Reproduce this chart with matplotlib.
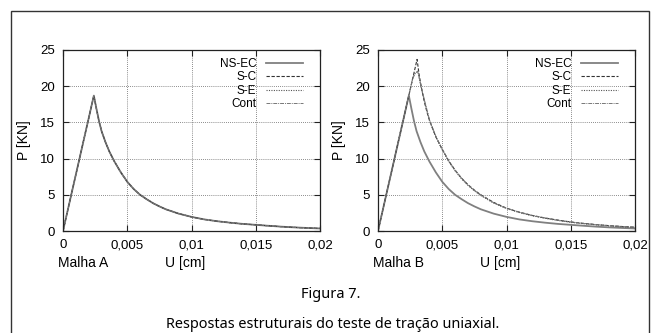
import matplotlib
matplotlib.use('Agg')
import matplotlib.pyplot as plt
from matplotlib.patches import Rectangle

plt.rcParams['font.family'] = ['Liberation Sans', 'DejaVu Sans']

# curvas carga-deslocamento (U em cm, P em KN)
u_ns = [0, 0.0024, 0.0026, 0.0028, 0.003, 0.0033, 0.0036, 0.004, 0.0045,
        0.005, 0.0055, 0.006, 0.0065, 0.007, 0.0075, 0.008, 0.009, 0.010,
        0.011, 0.012, 0.013, 0.014, 0.015, 0.016, 0.017, 0.018, 0.019, 0.020]
p_ns = [0, 18.7, 16.9, 15.2, 13.8, 12.3, 11.0, 9.6, 8.1,
        6.8, 5.8, 5.0, 4.4, 3.85, 3.4, 3.0, 2.4, 1.95,
        1.6, 1.35, 1.15, 0.98, 0.85, 0.72, 0.6, 0.5, 0.42, 0.35]

u_sc = [0, 0.00304, 0.0032, 0.0034, 0.0036, 0.0038, 0.004, 0.0045, 0.005,
        0.0055, 0.006, 0.0065, 0.007, 0.0075, 0.008, 0.009, 0.010, 0.011,
        0.012, 0.013, 0.014, 0.015, 0.016, 0.017, 0.018, 0.019, 0.020]
p_sc = [0, 23.7, 21.6, 19.6, 17.9, 16.5, 15.3, 13.0, 11.3,
        9.7, 8.4, 7.3, 6.4, 5.65, 5.0, 3.95, 3.15, 2.6,
        2.15, 1.8, 1.5, 1.25, 1.05, 0.88, 0.74, 0.62, 0.52]

u_se = [0, 0.0027, 0.0029, 0.0031, 0.0033, 0.0035, 0.0037, 0.004, 0.0045,
        0.005, 0.0055, 0.006, 0.0065, 0.007, 0.0075, 0.008, 0.009, 0.010,
        0.011, 0.012, 0.013, 0.014, 0.015, 0.016, 0.017, 0.018, 0.019, 0.020]
p_se = [0, 21.1, 21.8, 22.0, 20.3, 18.8, 17.4, 15.3, 13.0,
        11.2, 9.6, 8.3, 7.2, 6.3, 5.55, 4.9, 3.85, 3.1,
        2.55, 2.1, 1.75, 1.45, 1.2, 1.0, 0.84, 0.7, 0.58, 0.48]

u_ct = u_se
p_ct = [0, 21.1, 21.8, 22.1, 20.4, 18.9, 17.5, 15.4, 13.1,
        11.3, 9.7, 8.4, 7.3, 6.4, 5.6, 5.0, 3.9, 3.15,
        2.6, 2.15, 1.8, 1.5, 1.25, 1.05, 0.88, 0.74, 0.62, 0.52]

x_ticks = [0, 0.005, 0.01, 0.015, 0.02]
x_labels = ['0', '0,005', '0,01', '0,015', '0,02']
y_ticks = [0, 5, 10, 15, 20, 25]
series_names = ['NS-EC', 'S-C', 'S-E', 'Cont']
mesh_names = ['Malha A', 'Malha B']

W, H = 654, 333
fig = plt.figure(figsize=(W / 100, H / 100), dpi=100)

# moldura externa
fig.patches.append(Rectangle((11 / W, -0.1), 638 / W, 1.1 - 11 / H,
                             transform=fig.transFigure, fill=False,
                             edgecolor='#333333', lw=1.0))

axes_left = [63, 378]
ax_w, ax_top, ax_bot = 257, 50, 231

styles = [dict(color='#808080', lw=1.3, ls='-'),
          dict(color='#333333', lw=0.8, ls=(0, (3, 1.5))),
          dict(color='#555555', lw=0.8, ls=(0, (1, 1.2))),
          dict(color='#777777', lw=0.7, ls=(0, (4, 1, 1, 1)))]

for i, left in enumerate(axes_left):
    ax = fig.add_axes([left / W, 1 - ax_bot / H, ax_w / W, (ax_bot - ax_top) / H])
    if i == 0:
        data = [(u_ns, p_ns), (u_ns, p_ns), (u_ns, p_ns), (u_ns, p_ns)]
    else:
        data = [(u_ns, p_ns), (u_sc, p_sc), (u_se, p_se), (u_ct, p_ct)]
    for (u, p), name, st in zip(data, series_names, styles):
        ax.plot(u, p, label=name, **st)
    ax.set_xlim(0, 0.02)
    ax.set_ylim(0, 25)
    ax.set_xticks(x_ticks)
    ax.set_xticklabels(x_labels)
    ax.set_yticks(y_ticks)
    ax.grid(True, color='#666666', ls=(0, (1, 1.5)), lw=0.6)
    ax.tick_params(direction='in', top=True, right=True, length=4,
                   labelsize=9.5, color='#222222', pad=6)
    for s in ax.spines.values():
        s.set_color('#222222')
        s.set_linewidth(0.9)
    ax.set_ylabel('P [KN]', fontsize=10, labelpad=6)
    ax.legend(loc='upper right', bbox_to_anchor=(1 - 17 / ax_w, 1 - 8 / 181),
              frameon=False, fontsize=8.5, markerfirst=False,
              handlelength=3.1, labelspacing=0.12, borderaxespad=0,
              handletextpad=0.85, borderpad=0)
    fig.text((left - 5) / W, 1 - 263 / H, mesh_names[i], fontsize=10,
             ha='left', va='center')
    fig.text((left + 102) / W, 1 - 263 / H, 'U [cm]', fontsize=10,
             ha='left', va='center')

fig.text(331 / W, 1 - 295 / H, 'Figura 7.', fontsize=10.5, ha='center',
         va='center', family=['Noto Sans', 'DejaVu Sans'])
fig.text(333 / W, 1 - 325 / H, 'Respostas estruturais do teste de tração uniaxial.',
         fontsize=10.4, ha='center', va='center', family=['Noto Sans', 'DejaVu Sans'])

fig.savefig('out.png', dpi=100)
